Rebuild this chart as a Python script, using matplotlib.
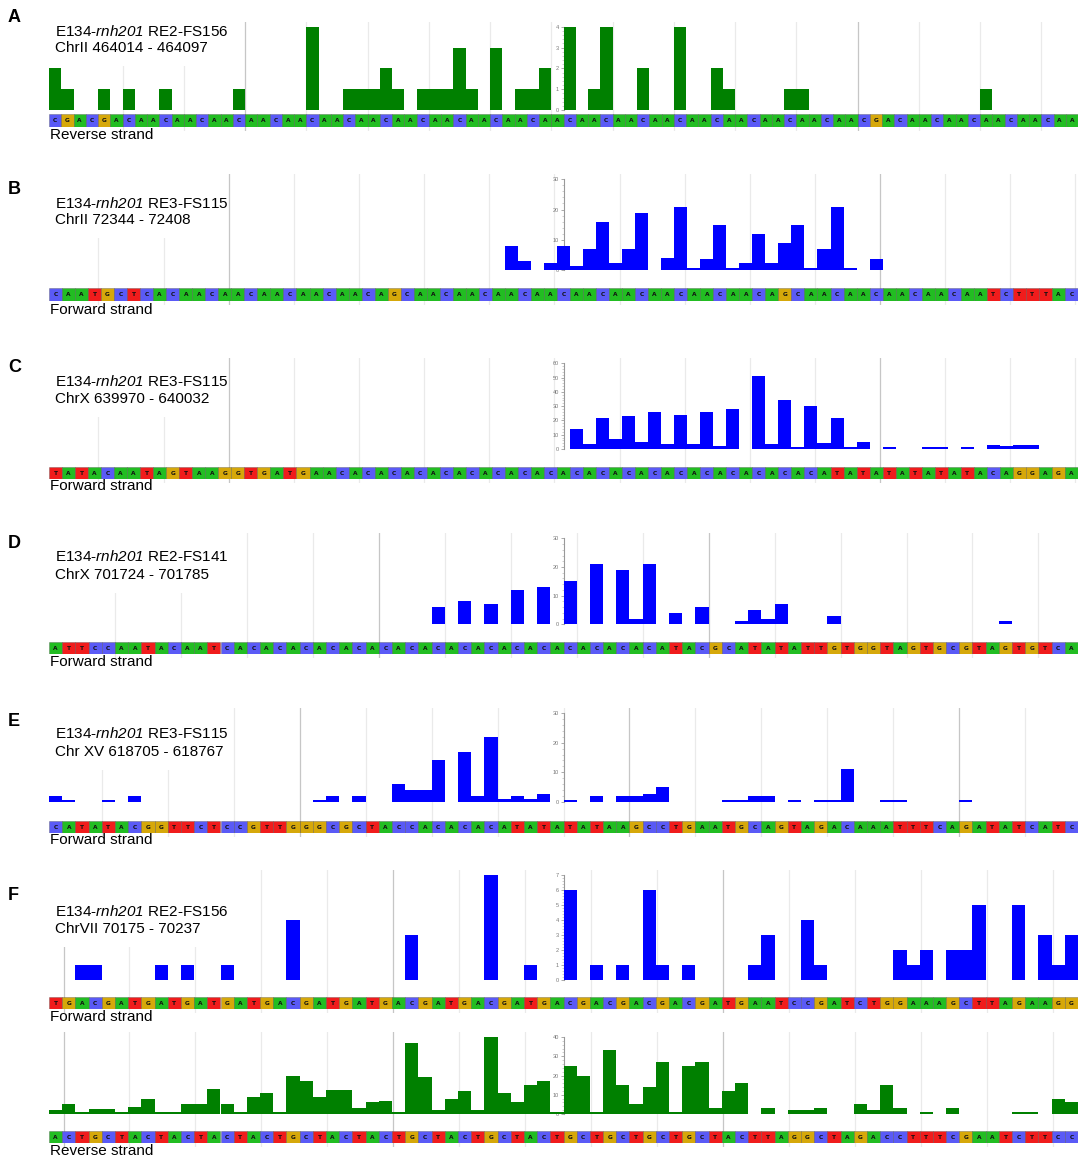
import matplotlib

matplotlib.use("Agg")

import matplotlib.pyplot as plt
from matplotlib.patches import Rectangle
from matplotlib.ticker import AutoMinorLocator, MultipleLocator

plt.rcParams["font.family"] = ["Liberation Sans", "DejaVu Sans"]
plt.rcParams["mathtext.fontset"] = "custom"
plt.rcParams["mathtext.rm"] = "Liberation Sans"
# \mathsf is mapped to the italic face so the digits in "rnh201" slant too
plt.rcParams["mathtext.sf"] = "Liberation Sans:italic"

W, H = 1078, 1160
X0, X1 = 49, 1078

BASE_COLORS = {"A": "#22bd22", "C": "#5a5af6", "G": "#d6a80a", "T": "#f01c1c"}
GREEN = "#008000"
BLUE = "#0000ff"

# ---- sequences shown under each track -------------------------------------
A_SEQ = ("CGACGA" "CAACAACAACAACAA" "CAACAACAACAACAA" "CAACAACAACAACAA"
         "CAACAACAACAACAA" "CGA" "CAACAACAACAACAA")
B_SEQ = ("CAATGCTCA" "CAACAACAACAACAA" "CAG" "CAACAACAACAACAA" "CAACAACAACAA"
         "CAG" "CAACAACAACAACAA" "TCTTTAC")
C_SEQ = ("TATACAATAGTAAGGTGATGAA" "CACACACACA" "CACACACACA" "CACACACACA"
         "CACACACA" "TATATATATATACAGGAGA")
D_SEQ = ("ATTCCAATACAAT" "CACACACACA" "CACACACACA" "CACACACACA" "CACA"
         "TACGCATATATTGTGGTAGTGCGTAGTGTCA")
E_SEQ = ("CATATACGGT" "TCTCCGTTGG" "GCGCTACCAC" "ACACATATAT" "ATAAGCCTGA"
         "ATGCAGTAGA" "CAAATTTCAG" "ATATCATC")
F_FWD_SEQ = ("TGACGATGAT" "GATGATGACG" "ATGATGACGA" "TGACGATGA" "CGACGACGAC"
             "GATGAATCCG" "ATCTGGAAAG" "CTTAGAAGG")
F_REV_SEQ = ("ACTGCTACTA" "CTACTACTGC" "TACTACTGCT" "ACTGCTACT" "GCTGCTGCTG"
             "CTACTTAGGC" "TAGACCTTTC" "GAATCTTCC")

# ---- per-base read counts ---------------------------------------------------
A_COV = [2, 1, 0, 0, 1, 0, 1, 0, 0, 1,
         0, 0, 0, 0, 0, 1, 0, 0, 0, 0,
         0, 4, 0, 0, 1, 1, 1, 2, 1, 0,
         1, 1, 1, 3, 1, 0, 3, 0, 1, 1,
         2, 0, 4, 0, 1, 4, 0, 0, 2, 0,
         0, 4, 0, 0, 2, 1, 0, 0, 0, 0,
         1, 1, 0, 0, 0, 0, 0, 0, 0, 0,
         0, 0, 0, 0, 0, 0, 1, 0, 0, 0,
         0, 0, 0, 0]
B_COV = [0, 0, 0, 0, 0, 0, 0, 0, 0, 0,
         0, 0, 0, 0, 0, 0, 0, 0, 0, 0,
         0, 0, 0, 0, 0, 0, 0, 0, 0, 0,
         0, 0, 0, 0, 0, 8, 3, 0, 2.4, 8,
         1.4, 7, 16, 2.3, 7, 19, 0, 4, 21, 0.5,
         3.5, 15, 0.5, 2.4, 12, 2.4, 9, 15, 0.5, 7,
         21, 0.5, 0, 3.5, 0, 0, 0, 0, 0, 0,
         0, 0, 0, 0, 0, 0, 0, 0, 0]
C_COV = [0, 0, 0, 0, 0, 0, 0, 0, 0, 0,
         0, 0, 0, 0, 0, 0, 0, 0, 0, 0,
         0, 0, 0, 0, 0, 0, 0, 0, 0, 0,
         0, 0, 0, 0, 0, 0, 0, 0, 0, 0,
         14, 3.3, 22, 6.8, 23, 5, 26, 3.3, 24, 3.3,
         26, 2, 28, 0, 51, 3.3, 34, 1.2, 30, 4,
         22, 1.2, 5, 0, 1.2, 0, 0, 1.2, 1.2, 0,
         1.2, 0, 3, 2, 3, 3, 0, 0, 0]
D_COV = [0, 0, 0, 0, 0, 0, 0, 0, 0, 0,
         0, 0, 0, 0, 0, 0, 0, 0, 0, 0,
         0, 0, 0, 0, 0, 0, 0, 0, 0, 6,
         0, 8, 0, 7, 0, 12, 0, 13, 0, 15,
         0, 21, 0, 19, 2, 21, 0, 4, 0, 6,
         0, 0, 1, 5, 2, 7, 0, 0, 0, 3,
         0, 0, 0, 0, 0, 0, 0, 0, 0, 0,
         0, 0, 1, 0, 0, 0, 0, 0]
E_COV = [2, 0.6, 0, 0, 0.6, 0, 2, 0, 0, 0,
         0, 0, 0, 0, 0, 0, 0, 0, 0, 0,
         0.6, 2, 0, 2, 0, 0, 6, 4, 4, 14,
         0, 17, 2, 22, 1, 2, 1, 2.5, 0, 0.6,
         0, 2, 0, 2, 2, 2.5, 5, 0, 0, 0,
         0, 0.6, 0.6, 2, 2, 0, 0.6, 0, 0.6, 0.6,
         11, 0, 0, 0.6, 0.6, 0, 0, 0, 0, 0.6,
         0, 0, 0, 0, 0, 0, 0, 0]
F_FWD_COV = [0, 0, 1, 1, 0, 0, 0, 0, 1, 0,
             1, 0, 0, 1, 0, 0, 0, 0, 4, 0,
             0, 0, 0, 0, 0, 0, 0, 3, 0, 0,
             0, 0, 0, 7, 0, 0, 1, 0, 0, 6,
             0, 1, 0, 1, 0, 6, 1, 0, 1, 0,
             0, 0, 0, 1, 3, 0, 0, 4, 1, 0,
             0, 0, 0, 0, 2, 1, 2, 0, 2, 2,
             5, 0, 0, 5, 0, 3, 1, 3]
F_REV_COV = [2, 5, 1, 2.5, 2.5, 1, 3.5, 8, 1, 1,
             5, 5, 13, 5, 1, 9, 11, 1, 20, 17,
             9, 12.5, 12.5, 3, 6, 7, 1, 37, 19, 2,
             8, 12, 2, 41, 11, 6, 15, 17, 1, 25,
             20, 1, 33, 15, 5, 14, 27, 1, 25, 27,
             3, 12, 16, 0, 3, 0, 2, 2, 3, 0,
             0, 5, 2, 15, 3, 0, 1, 0, 3, 0,
             0, 0, 0, 1, 1, 0, 8, 6]


def px_axes(fig, top, bottom, x0=X0, x1=X1):
    return fig.add_axes([x0 / W, 1 - bottom / H, (x1 - x0) / W, (bottom - top) / H])


def bare(ax, n, ymax):
    ax.set_xlim(0, n)
    ax.set_ylim(0, ymax)
    ax.set_xticks([])
    ax.set_yticks([])
    for s in ax.spines.values():
        s.set_visible(False)
    ax.patch.set_alpha(0)


def track(fig, cov, seq, color, ymax, major, top, bottom, strip_top, strip_bottom,
          strand, strand_y, grid0, dark, title_bottom=None):
    n = len(seq)

    bg = px_axes(fig, top - 5, strip_bottom + 4)
    bare(bg, n, 1)
    g = grid0
    while g < n:
        is_dark = any(abs(g - d) < 0.05 for d in dark)
        bg.axvline(g, color="#c6c6c6" if is_dark else "#eaeaea", lw=0.9, zorder=1)
        g += 5
    if title_bottom:
        bg.add_patch(Rectangle((X0 / W, 1 - title_bottom / H), (226 - X0) / W,
                               (title_bottom - top + 12) / H, transform=fig.transFigure,
                               fc="white", ec="none", zorder=3, clip_on=False))

    ax = px_axes(fig, top, bottom)
    bare(ax, n, ymax)
    idx = [i for i, v in enumerate(cov) if v > 0]
    ax.bar(idx, [cov[i] for i in idx], width=1, align="edge", color=color, lw=0, zorder=2)

    sec = ax.secondary_yaxis(0.5)
    sec.set_alignment("left")
    sec.yaxis.set_major_locator(MultipleLocator(major))
    sec.yaxis.set_minor_locator(AutoMinorLocator(5))
    sec.tick_params(which="major", length=2.5, width=0.5, color="#888888",
                    labelsize=4, labelcolor="#777777", pad=0.8)
    sec.tick_params(which="minor", length=1.4, width=0.4, color="#aaaaaa")
    sec.spines["left"].set_color("#999999")
    sec.spines["left"].set_linewidth(0.8)

    st = px_axes(fig, strip_top, strip_bottom)
    bare(st, n, 1)
    st.bar(range(n), [1] * n, width=1, align="edge",
           color=[BASE_COLORS[b] for b in seq], edgecolor=(0.25, 0.25, 0.25, 0.55), lw=0.4)
    for i, b in enumerate(seq):
        st.text(i + 0.5, 0.48, b, fontsize=4.2, ha="center", va="center",
                family="DejaVu Sans", fontweight="bold", color="#111111", clip_on=True)

    fig.text(50 / W, 1 - strand_y / H, strand, fontsize=11, ha="left", va="center")


def header(fig, letter, letter_y, line1, line2, y1, y2):
    fig.text(8 / W, 1 - letter_y / H, letter, fontsize=13, fontweight="bold", ha="left", va="center")
    fig.text(55 / W, 1 - y1 / H, line1, fontsize=11, ha="left", va="center")
    fig.text(55 / W, 1 - y2 / H, line2, fontsize=11, ha="left", va="center")


def main():
    fig = plt.figure(figsize=(W / 100, H / 100), dpi=100, facecolor="white")

    track(fig, A_COV, A_SEQ, GREEN, 4, 1, 26.7, 110, 114.3, 126.7,
          "Reverse strand", 135, 6, [16, 66], title_bottom=66)
    header(fig, "A", 18, r"E134-$\mathsf{rnh201}$ RE2-FS156", "ChrII 464014 - 464097", 31.7, 48.3)

    track(fig, B_COV, B_SEQ, BLUE, 30, 10, 179.3, 270, 288.3, 300.7,
          "Forward strand", 310, 3.8, [13.8, 63.8], title_bottom=238)
    header(fig, "B", 190, r"E134-$\mathsf{rnh201}$ RE3-FS115", "ChrII 72344 - 72408", 203.3, 220)

    track(fig, C_COV, C_SEQ, BLUE, 60, 10, 363.3, 449, 466.7, 479.3,
          "Forward strand", 486, 3.8, [13.8, 63.8], title_bottom=417)
    header(fig, "C", 368, r"E134-$\mathsf{rnh201}$ RE3-FS115", "ChrX 639970 - 640032", 381.7, 399.3)

    track(fig, D_COV, D_SEQ, BLUE, 30, 10, 538.3, 624.3, 642.3, 654.3,
          "Forward strand", 661.7, 5, [25, 50], title_bottom=593)
    header(fig, "D", 543, r"E134-$\mathsf{rnh201}$ RE2-FS141", "ChrX 701724 - 701785", 556.7, 575)

    track(fig, E_COV, E_SEQ, BLUE, 30, 10, 713.3, 801.7, 820.7, 833.3,
          "Forward strand", 840, 4, [19, 44, 69], title_bottom=770)
    header(fig, "E", 722, r"E134-$\mathsf{rnh201}$ RE3-FS115", "Chr XV 618705 - 618767", 733.3, 751.7)

    track(fig, F_FWD_COV, F_FWD_SEQ, BLUE, 7, 1, 875, 980, 996.7, 1009,
          "Forward strand", 1017, 1.1, [1.1, 26.1, 51.1], title_bottom=947)
    header(fig, "F", 895, r"E134-$\mathsf{rnh201}$ RE2-FS156", "ChrVII 70175 - 70237", 911.7, 929.3)

    track(fig, F_REV_COV, F_REV_SEQ, GREEN, 40, 10, 1037, 1114, 1131, 1143,
          "Reverse strand", 1151, 1.1, [1.1, 26.1, 51.1])

    fig.savefig("out.png", dpi=100, facecolor="white")
    plt.close(fig)


if __name__ == "__main__":
    main()
